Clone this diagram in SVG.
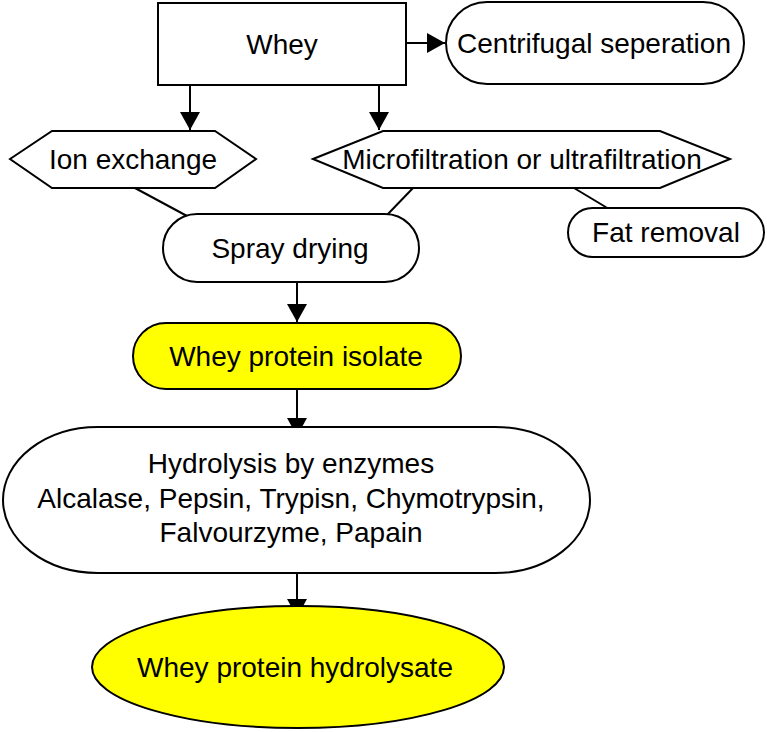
<svg xmlns="http://www.w3.org/2000/svg" width="767" height="732" viewBox="0 0 767 732">
  <style>
    .shape { fill: #ffffff; stroke: #000000; stroke-width: 2; }
    .yellow { fill: #ffff00; stroke: #000000; stroke-width: 2; }
    .conn { stroke: #000000; stroke-width: 2; fill: none; }
    .label { font-family: "Liberation Sans", Arial, sans-serif; font-size: 28px; fill: #000000; text-anchor: middle; }
  </style>
  <defs>
    <marker id="arrow" viewBox="0 0 18 20" refX="18" refY="10" markerWidth="18" markerHeight="20" markerUnits="userSpaceOnUse" orient="auto">
      <path d="M0,0 L18,10 L0,20 z" fill="#000000"/>
    </marker>
  </defs>
  <rect width="767" height="732" fill="#ffffff"/>
  <g id="connectors">
    <line class="conn" x1="406" y1="43" x2="445" y2="43" marker-end="url(#arrow)"/>
    <line class="conn" x1="190" y1="85" x2="190" y2="130" marker-end="url(#arrow)"/>
    <line class="conn" x1="379" y1="85" x2="379" y2="130" marker-end="url(#arrow)"/>
    <line class="conn" x1="135" y1="188" x2="187" y2="216"/>
    <line class="conn" x1="413" y1="188" x2="387" y2="215"/>
    <line class="conn" x1="574" y1="188" x2="609" y2="209"/>
    <line class="conn" x1="297" y1="282" x2="297" y2="322" marker-end="url(#arrow)"/>
    <line class="conn" x1="297" y1="389" x2="297" y2="436" marker-end="url(#arrow)"/>
    <line class="conn" x1="297" y1="573" x2="297" y2="617" marker-end="url(#arrow)"/>
  </g>
  <g id="whey">
    <rect class="shape" x="158" y="3" width="248" height="82"/>
    <text class="label" x="282" y="54">Whey</text>
  </g>
  <g id="centrifugal">
    <rect class="shape" x="446" y="2" width="298" height="82" rx="41" ry="41"/>
    <text class="label" x="594" y="53">Centrifugal seperation</text>
  </g>
  <g id="ion-exchange">
    <polygon class="shape" points="10,159 52,131 215,131 256,159 215,188 52,188"/>
    <text class="label" x="133" y="169">Ion exchange</text>
  </g>
  <g id="filtration">
    <polygon class="shape" points="313,159 383,131 660,131 730,159 660,188 383,188"/>
    <text class="label" x="522" y="169">Microfiltration or ultrafiltration</text>
  </g>
  <g id="fat-removal">
    <rect class="shape" x="568" y="208" width="196" height="49" rx="24.5" ry="24.5"/>
    <text class="label" x="666" y="242">Fat removal</text>
  </g>
  <g id="spray-drying">
    <rect class="shape" x="163" y="214" width="256" height="68" rx="34" ry="34"/>
    <text class="label" x="290" y="258">Spray drying</text>
  </g>
  <g id="isolate">
    <rect class="yellow" x="133" y="323" width="328" height="66" rx="33" ry="33"/>
    <text class="label" x="296" y="366">Whey protein isolate</text>
  </g>
  <g id="hydrolysis">
    <rect class="shape" x="3" y="427" width="587" height="146" rx="95" ry="73"/>
    <text class="label" x="291" y="473">Hydrolysis by enzymes</text>
    <text class="label" x="291" y="508">Alcalase, Pepsin, Trypisn, Chymotrypsin,</text>
    <text class="label" x="291" y="542">Falvourzyme, Papain</text>
  </g>
  <g id="hydrolysate">
    <ellipse class="yellow" cx="298" cy="667" rx="206" ry="61"/>
    <text class="label" x="295" y="677">Whey protein hydrolysate</text>
  </g>
</svg>
